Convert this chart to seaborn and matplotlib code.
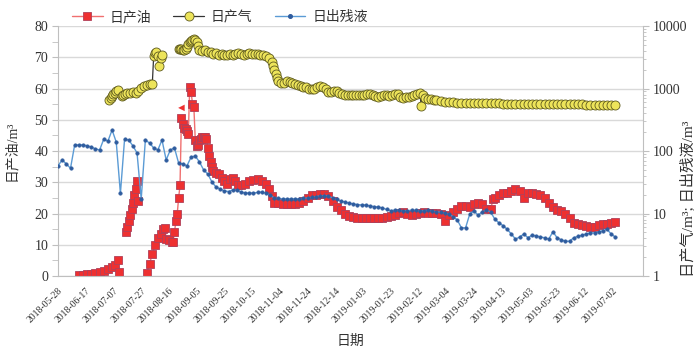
import numpy as np
import pandas as pd
import seaborn as sns
import matplotlib
matplotlib.use("Agg")
import matplotlib.pyplot as plt
from matplotlib.lines import Line2D
from matplotlib.ticker import MultipleLocator, LogLocator, NullFormatter

# x positions are days counted from 2018-05-28
tick_days = list(range(0, 421, 20))
tick_labels = ['2018-05-28', '2018-06-17', '2018-07-07', '2018-07-27', '2018-08-16',
               '2018-09-05', '2018-09-25', '2018-10-15', '2018-11-04', '2018-11-24',
               '2018-12-14', '2019-01-03', '2019-01-23', '2019-02-12', '2019-03-04',
               '2019-03-24', '2019-04-13', '2019-05-03', '2019-05-23', '2019-06-12',
               '2019-07-02', '']

# 日产油 (m3, left axis); nan = break in the series
oil_day = [15, 18, 21, 24, 27, 30, 33, 36, 39, 41, 43, 44, 46,
           49, 50, 51, 52, 53, 54, 55, 56, 57, 58, 60,
           64, 66, 68, 70, 72, 74, 76, 77, 78, 80, 82, 83, 84, 85, 86, 87, 88,
           89, 90, 91, 92, 93, 94, 95, 96, 97, 98, 99, 100, 101, 102, 103, 104,
           105, 106, 107, 108, 109, 110, 111, 112, 114, 116, 118, 120, 122, 124,
           126, 128, 130, 132, 135, 138, 141, 144, 147, 150, 152, 154, 156,
           159, 162, 165, 168, 171, 174, 177, 180, 183, 186, 189, 192, 195, 198,
           201, 204, 207, 210, 213, 216, 219, 222, 225, 228, 231, 234, 237, 240,
           243, 246, 249, 252, 255, 258, 261, 264, 267, 270, 273, 276, 279, 282,
           285, 288, 291, 294, 297, 300, 303, 306, 309, 312, 314, 315, 318, 321,
           324, 327, 330, 333, 336, 339, 342, 345, 348, 351, 354, 357, 360, 363,
           366, 369, 372, 375, 378, 381, 384, 387, 390, 393, 396, 399, 402]
oil_val = [0.3, 0.4, 0.6, 0.8, 1.0, 1.3, 1.6, 2.2, 2.9, 3.5, 5.0, 1.3, np.nan,
           14.0, 15.8, 17.5, 19.5, 21.5, 23.5, 26.0, 28.0, 30.4, 24.0, np.nan,
           0.9, 4.0, 7.0, 10.0, 12.3, 13.6, 15.0, 15.5, 12.0, 11.5, 11.0, 11.0, 14.0, 17.5, 20.0, 25.0, 29.0,
           50.5, 48.5, 47.5, 47.0, 46.5, 45.5, 60.6, 59.0, 55.0, 54.0, 43.5, 41.5, 42.0, 43.5, 44.0, 44.5,
           44.5, 44.5, 44.0, 41.0, 38.5, 36.5, 35.0, 33.5, 33.0, 32.5, 31.5, 30.5, 29.5, 31.0,
           31.5, 30.5, 29.0, 29.0, 29.5, 30.5, 30.7, 31.0, 30.5, 29.5, 28.0, 25.5, 23.5,
           23.3, 23.2, 23.0, 23.0, 23.2, 23.5, 24.0, 25.0, 25.8, 26.0, 26.3, 26.2, 25.5, 24.0,
           22.0, 21.0, 19.8, 19.2, 19.0, 18.7, 18.6, 18.5, 18.5, 18.6, 18.7, 18.7, 18.9, 19.1,
           19.5, 20.2, 20.5, 20.0, 19.5, 19.7, 20.2, 20.5, 20.3, 20.3, 20.2, 20.0, 17.5, 19.5,
           20.5, 21.5, 22.5, 22.3, 22.0, 23.0, 23.5, 23.0, 21.5, 21.5, 24.5, 25.0, 26.0, 26.5,
           26.7, 27.2, 28.0, 27.2, 24.9, 26.5, 26.7, 26.3, 26.0, 25.0, 23.5, 22.0, 21.2, 20.7,
           20.0, 18.5, 17.0, 16.5, 16.2, 16.0, 15.7, 15.8, 16.2, 16.5, 16.8, 17.0, 17.2]
oil_flag_day = [89]
oil_flag_val = [53.8]

# 日产气 (m3, right log axis)
gas_day = [37, 38, 39, 40, 41, 42, 43, 44, 46, 47, 48, 50, 52, 54, 56, 58, 60, 62, 64,
           66, 68, 69, 70, 71, 72, 73, 74, 75, 80,
           87, 88, 89, 90, 91, 92, 93, 94, 95, 96, 97, 98, 99, 100, 101, 102, 104,
           106, 108, 110, 112, 114, 116, 118, 120, 122, 124, 126, 128, 130, 132, 134,
           136, 138, 140, 142, 144, 146, 148, 150, 152, 154, 155, 156, 157, 158, 159,
           161, 163, 165, 167, 169, 171, 173, 175, 177, 179, 181, 183, 185, 187, 189,
           191, 193, 195, 197, 199, 201, 203, 205, 207, 209, 211, 213, 215, 217, 219,
           221, 223, 225, 227, 229, 231, 233, 235, 237, 239, 241, 243, 245, 247, 249,
           251, 253, 255, 257, 259, 261, 262, 263, 265, 267, 269, 271, 273,
           276, 279, 282, 285, 288, 291, 294, 297, 300, 303, 306, 309, 312, 315, 318,
           321, 324, 327, 330, 333, 336, 339, 342, 345, 348, 351, 354, 357, 360, 363,
           366, 369, 372, 375, 378, 381, 384, 387, 390, 393, 396, 399, 402]
gas_val = [655, 705, 759, 817, 847, 912, 946, np.nan, 759, 787, 817, 847, 863, 879, 847, 912, 1019, 1096, 1138,
           1160, 1180, 3311, 3698, 3837, 3311, 2291, 3076, 3436, np.nan,
           4285, 4366, 4290, 4130, 4130, 4285, 4613, 5152, 5546, 5754, 5970, 6100, 5970, 5546, 4786, 4130, 3981,
           4130, 3837, 3837, 3565, 3698, 3436, 3565, 3436, 3436, 3565, 3436, 3565, 3698, 3565, 3436,
           3565, 3698, 3565, 3630, 3565, 3436, 3436, 3311, 3076, 2655, 2291, 1977, 1706, 1472, 1318,
           1225, 1248, 1318, 1294, 1225, 1180, 1138, 1096, 1075, 1055, 1000, 982, 1000, 1055, 1096,
           1075, 982, 879, 879, 912, 912, 863, 817, 787, 787, 774, 787, 787, 787, 774,
           802, 817, 817, 787, 759, 745, 759, 774, 787, 759, 787, 832, 817, 745, 718,
           731, 745, 759, 774, 817, 863, 525, 787, 705, 692, 679, 667, 655,
           620, 610, 604, 598, 594, 592, 590, 588, 586, 584, 582, 580, 579, 578, 576,
           575, 574, 572, 570, 569, 568, 566, 565, 565, 565, 564, 563, 562, 560, 560,
           559, 558, 557, 556, 555, 554, 553, 552, 552, 550, 548, 547, 545]

# 日出残液 (m3, right log axis), every 3 days
liq_day = list(range(0, 405, 3))
liq_val = [58, 72, 62, 53, 125, 125, 125, 121, 116, 108,
           104, 155, 144, 217, 139, 21, 155, 150, 121, 93,
           17, 150, 134, 112, 104, 150, 72, 104, 112, 64,
           62, 58, 80, 83, 67, 50, 43, 32, 26.5, 24.7,
           23, 22.5, 23.8, 23.8, 22.1, 21.3, 21.3, 21.3, 21.7, 22.1,
           21.3, 19.8, 17.7, 17.4, 17.1, 17.1, 17.1, 17.1, 17.1, 17.4,
           17.7, 18.1, 18.6, 19.1, 19.4, 19.1, 17.7, 16.8, 15.8, 15.3,
           14.7, 14.2, 13.9, 13.7, 13.7, 13.2, 12.9, 12.7, 12.3, 11.6,
           11.1, 11.3, 11.2, 11.0, 11.1, 11.3, 11.2, 11.0, 11.1, 11.2,
           11.0, 10.6, 10.5, 10.2, 9.8, 8.9, 7.9, 5.9, 5.9, 9.8,
           11.0, 9.4, 10.6, 11.4, 10.6, 8.2, 7.1, 6.4, 5.6, 4.7,
           3.9, 4.2, 4.7, 4.1, 4.5, 4.4, 4.2, 4.1, 3.9, 5.1,
           4.1, 3.8, 3.6, 3.6, 4.1, 4.3, 4.5, 4.7, 4.9, 4.9,
           5.1, 5.3, 5.6, 4.7, 4.2]

OIL_FILL, OIL_EDGE, OIL_LINE = '#EE3030', '#B0405A', '#F07070'
GAS_FILL, GAS_EDGE, GAS_LINE = '#EDE45A', '#5E5A1E', '#333333'
LIQ_DOT, LIQ_LINE = '#2F5C9E', '#5B9BD5'
GRID = '#D9D9D9'
AXC = '#BFBFBF'
TXT = '#333333'


def to_frame(day, val):
    df = pd.DataFrame({'day': day, 'val': val})
    df['seg'] = df['val'].isna().cumsum()
    return df.dropna()


sns.set_style('white')
plt.rcParams['font.family'] = ['Liberation Serif', 'Noto Sans CJK SC']

fig = plt.figure(figsize=(7.0, 3.53), dpi=100)
ax1 = fig.add_axes([0.0829, 0.2181, 0.8357, 0.7082])
ax2 = ax1.twinx()

sns.lineplot(data=to_frame(oil_day, oil_val), x='day', y='val', units='seg', estimator=None,
             ax=ax1, color=OIL_LINE, lw=1.0, marker='s', markersize=6.0,
             markerfacecolor=OIL_FILL, markeredgecolor=OIL_EDGE, mew=0.6, legend=False)
sns.scatterplot(x=oil_flag_day, y=oil_flag_val, ax=ax1, marker='<', s=22, color=OIL_FILL,
                edgecolor='none', legend=False)

sns.lineplot(data=to_frame(liq_day, liq_val), x='day', y='val', units='seg', estimator=None,
             ax=ax2, color=LIQ_LINE, lw=1.0, marker='o', markersize=2.6,
             markerfacecolor=LIQ_DOT, markeredgecolor=LIQ_DOT, mew=0.3, legend=False)
sns.lineplot(data=to_frame(gas_day, gas_val), x='day', y='val', units='seg', estimator=None,
             ax=ax2, color=GAS_LINE, lw=0.9, marker='o', markersize=6.5,
             markerfacecolor=GAS_FILL, markeredgecolor=GAS_EDGE, mew=0.6, legend=False)

# left axis
ax1.set_xlim(0, 422)
ax1.set_ylim(0, 80)
ax1.yaxis.set_major_locator(MultipleLocator(10))
ax1.yaxis.set_minor_locator(MultipleLocator(5))
ax1.yaxis.grid(True, color=GRID, lw=1.0)
ax1.set_axisbelow(True)
ax1.set_xticks(tick_days)
ax1.set_xticklabels(tick_labels, rotation=45, ha='right', rotation_mode='anchor', fontsize=7, color=TXT)
ax1.tick_params(axis='x', length=4, color=AXC, pad=3)
ax1.tick_params(axis='y', which='both', length=4, color=AXC, labelsize=10, labelcolor=TXT, pad=3)
for side in ['top', 'right']:
    ax1.spines[side].set_visible(False)
for side in ['left', 'bottom']:
    ax1.spines[side].set_color(AXC)
ax1.set_xlabel('日期', fontsize=10, color=TXT)
ax1.xaxis.set_label_coords(0.5, -0.235)
ax1.set_ylabel('日产油/m³', fontsize=10, color=TXT)
ax1.yaxis.set_label_coords(-0.068, 0.5)

# right axis
ax2.set_yscale('log')
ax2.set_ylim(1, 10000)
ax2.set_yticks([1, 10, 100, 1000, 10000])
ax2.set_yticklabels(['1', '10', '100', '1000', '10000'])
ax2.yaxis.set_minor_locator(LogLocator(base=10, subs=range(2, 10)))
ax2.yaxis.set_minor_formatter(NullFormatter())
ax2.tick_params(axis='y', which='major', length=4, color=AXC, labelsize=10, labelcolor=TXT, pad=3)
ax2.tick_params(axis='y', which='minor', length=2, color=AXC)
for side in ['top', 'left', 'bottom']:
    ax2.spines[side].set_visible(False)
ax2.spines['right'].set_color(AXC)
ax2.set_xlabel('')
ax2.set_ylabel('日产气/m³; 日出残液/m³', fontsize=11, color=TXT, rotation=90)
ax2.yaxis.set_label_coords(1.064, 0.31)

handles = [
    Line2D([], [], color=OIL_LINE, lw=1.0, marker='s', markersize=6.0,
           markerfacecolor=OIL_FILL, markeredgecolor=OIL_EDGE, mew=0.6),
    Line2D([], [], color=GAS_LINE, lw=0.9, marker='o', markersize=6.5,
           markerfacecolor=GAS_FILL, markeredgecolor=GAS_EDGE, mew=0.6),
    Line2D([], [], color=LIQ_LINE, lw=1.0, marker='o', markersize=2.6,
           markerfacecolor=LIQ_DOT, markeredgecolor=LIQ_DOT),
]
fig.legend(handles, ['日产油', '日产气', '日出残液'], loc='upper left', bbox_to_anchor=(0.085, 1.005),
           ncol=3, frameon=False, fontsize=10, handlelength=2.2, columnspacing=1.6,
           handletextpad=0.5, labelcolor=TXT)

fig.savefig('out.png', dpi=100)
